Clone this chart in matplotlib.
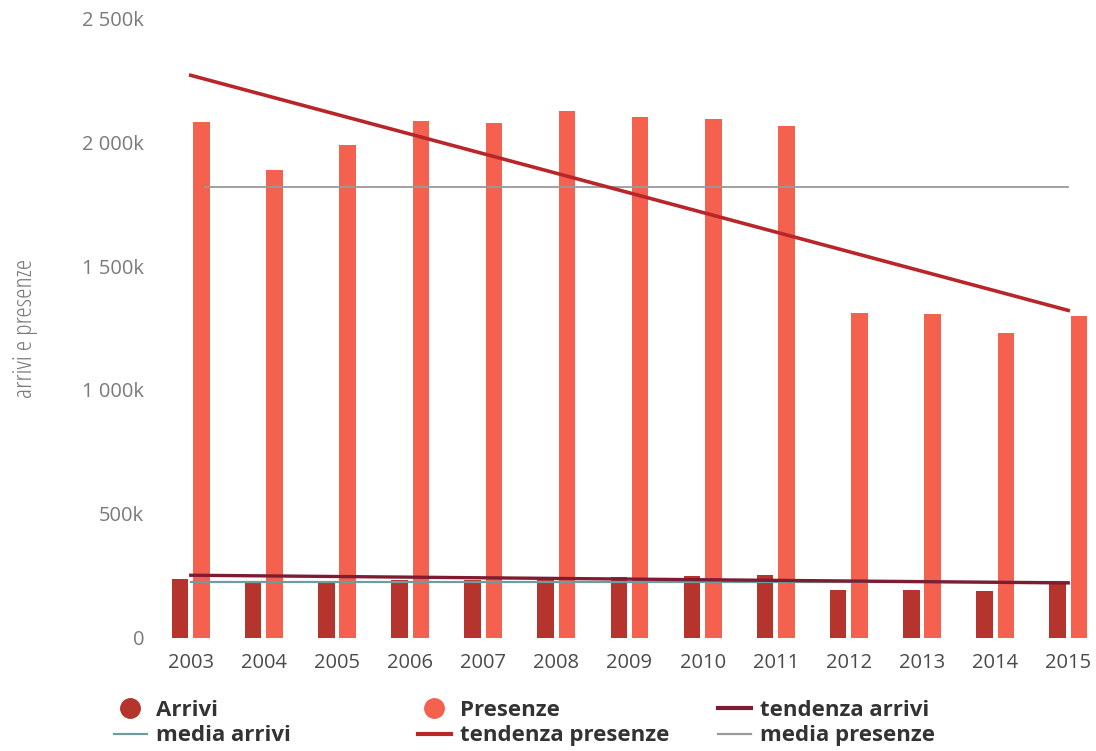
import numpy as np
import matplotlib.pyplot as plt
from matplotlib.lines import Line2D
from matplotlib.ticker import FuncFormatter

plt.rcParams['font.family'] = ['Open Sans', 'DejaVu Sans']

# Annual data (thousands)
anni = ['2003', '2004', '2005', '2006', '2007', '2008', '2009',
        '2010', '2011', '2012', '2013', '2014', '2015']
arrivi = [237, 221, 221, 233, 233, 245, 245, 249, 253, 193, 193, 189, 221]
presenze = [2080, 1888, 1988, 2084, 2076, 2124, 2100, 2092, 2064,
            1309, 1305, 1229, 1297]

# trend lines, first and last year
tendenza_arrivi = [253, 222]
tendenza_presenze = [2269, 1321]

# colours
col_arrivi = '#b5342d'
col_presenze = '#f4614f'
col_tend_arrivi = '#7d1c33'
col_tend_presenze = '#b8262a'
col_media_arrivi = '#6f9c9e'
col_media_presenze = '#9a9a9a'

x = np.arange(len(anni))
media_arrivi = np.mean(arrivi)
media_presenze = np.mean(presenze)

fig = plt.figure(figsize=(10.96, 7.51), dpi=100)
ax = fig.add_axes([0.134, 0.1505, 0.864, 0.8255])

w = 0.225
off = 0.146
ax.bar(x - off, np.array(arrivi) * 1000, width=w, color=col_arrivi, zorder=2)
ax.bar(x + off, np.array(presenze) * 1000, width=w, color=col_presenze, zorder=2)

ends = [x[0], x[-1]]
ax.plot([x[0] + 0.2, x[-1]], [media_presenze * 1000] * 2,
        color=col_media_presenze, lw=1.3, zorder=3)
ax.plot(ends, np.array(tendenza_presenze) * 1000, color=col_tend_presenze, lw=2.6, zorder=4)
ax.plot(ends, [media_arrivi * 1000] * 2, color=col_media_arrivi, lw=1.6, zorder=3)
ax.plot(ends, np.array(tendenza_arrivi) * 1000, color=col_tend_arrivi, lw=2.4, zorder=4)

ax.set_xlim(-0.6, 12.35)
ax.set_ylim(0, 2500000)
ax.set_yticks(np.arange(0, 2500001, 500000))


def fmt(v, pos):
    if v == 0:
        return '0'
    k = int(round(v / 1000))
    s = '{:,}'.format(k).replace(',', ' ')
    return s + 'k'


ax.yaxis.set_major_formatter(FuncFormatter(fmt))
ax.set_xticks(x)
ax.set_xticklabels(anni)
ax.tick_params(axis='y', length=0, pad=2, labelsize=14.5, labelcolor='#7a7a7a')
ax.tick_params(axis='x', length=0, pad=11, labelsize=14.5, labelcolor='#4a4a4a')
for s in ax.spines.values():
    s.set_visible(False)

ax.set_ylabel('arrivi e presenze', fontsize=19, color='#7a7a7a',
              fontstretch='condensed', labelpad=32)

# legend: three columns placed separately
colonne = [
    (0.1036, [Line2D([], [], marker='o', ls='none', ms=14, color=col_arrivi),
              Line2D([], [], color=col_media_arrivi, lw=1.6)],
     ['Arrivi', 'media arrivi']),
    (0.381, [Line2D([], [], marker='o', ls='none', ms=14, color=col_presenze),
             Line2D([], [], color=col_tend_presenze, lw=3)],
     ['Presenze', 'tendenza presenze']),
    (0.655, [Line2D([], [], color=col_tend_arrivi, lw=3),
             Line2D([], [], color=col_media_presenze, lw=1.6)],
     ['tendenza arrivi', 'media presenze']),
]
for xpos, h, l in colonne:
    leg = fig.legend(h, l, loc='upper left', bbox_to_anchor=(xpos, 0.068),
                     frameon=False, borderpad=0, borderaxespad=0,
                     prop={'weight': 'bold', 'size': 16}, labelcolor='#333333',
                     handlelength=1.5, handletextpad=0.4, labelspacing=0.2)

fig.savefig('out.png', dpi=100)
